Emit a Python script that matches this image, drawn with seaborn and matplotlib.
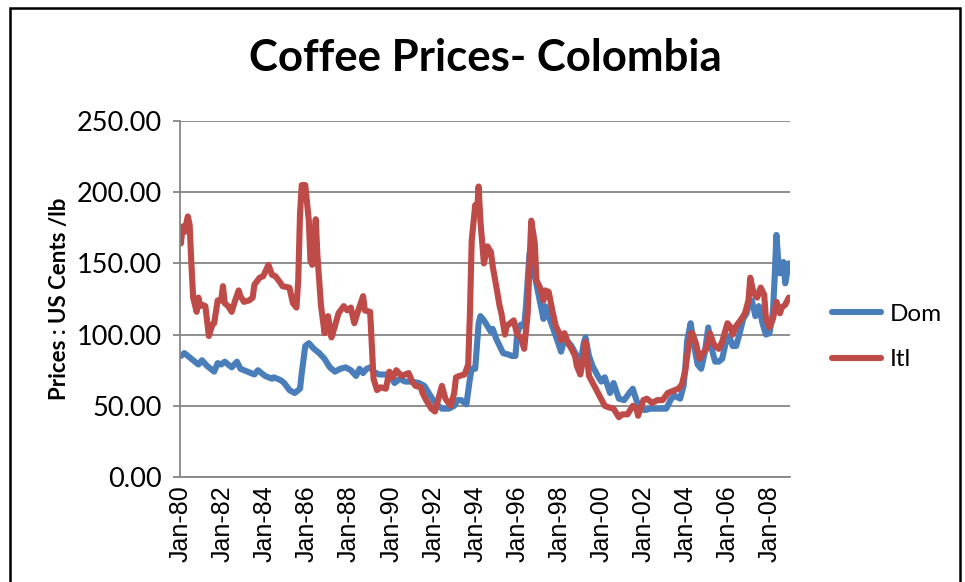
import pandas as pd
import matplotlib
matplotlib.use("Agg")
import matplotlib.pyplot as plt
import matplotlib.dates as mdates
from matplotlib.patches import Rectangle
import seaborn as sns

# Dom series (monthly)
dom_dates = ["1980-01", "1980-03", "1980-07", "1980-11", "1981-01", "1981-04", "1981-08", "1981-10",
             "1981-12", "1982-02", "1982-06", "1982-09", "1982-11", "1983-03", "1983-07", "1983-09",
             "1984-01", "1984-05", "1984-06", "1984-10", "1984-12", "1985-03", "1985-06", "1985-09",
             "1985-10", "1985-12", "1986-02", "1986-05", "1986-08", "1986-11", "1987-02", "1987-05",
             "1987-08", "1987-11", "1988-02", "1988-05", "1988-07", "1988-09", "1988-11", "1989-01",
             "1989-03", "1989-06", "1989-08", "1989-12", "1990-03", "1990-06", "1990-09", "1991-01",
             "1991-05", "1991-08", "1991-11", "1992-02", "1992-06", "1992-10", "1993-01", "1993-03",
             "1993-05", "1993-08", "1993-10", "1993-11", "1994-01", "1994-03", "1994-04", "1994-06",
             "1994-08", "1994-10", "1994-11", "1995-01", "1995-03", "1995-05", "1995-08", "1995-10",
             "1995-12", "1996-01", "1996-03", "1996-05", "1996-06", "1996-08", "1996-09", "1996-10",
             "1996-11", "1997-01", "1997-04", "1997-05", "1997-07", "1997-09", "1997-11", "1998-02",
             "1998-04", "1998-06", "1998-08", "1998-11", "1999-01", "1999-03", "1999-04", "1999-06",
             "1999-08", "1999-11", "2000-01", "2000-03", "2000-06", "2000-08", "2000-11", "2001-02",
             "2001-05", "2001-07", "2001-09", "2001-11", "2002-02", "2002-05", "2002-08", "2002-11",
             "2003-02", "2003-05", "2003-07", "2003-10", "2003-12", "2004-01", "2004-02", "2004-04",
             "2004-06", "2004-08", "2004-10", "2004-12", "2005-02", "2005-04", "2005-06", "2005-08",
             "2005-10", "2005-12", "2006-02", "2006-04", "2006-06", "2006-08", "2006-10", "2006-12",
             "2007-01", "2007-03", "2007-05", "2007-07", "2007-09", "2007-11", "2008-01", "2008-03",
             "2008-04", "2008-05", "2008-06", "2008-07", "2008-09", "2008-10", "2008-12"]
dom_values = [85, 87, 83, 79, 82, 78, 74, 80,
              79, 81, 77, 81, 76, 74, 72, 75,
              71, 69, 70, 68, 66, 61, 59, 62,
              73, 92, 94, 90, 87, 83, 77, 74,
              76, 77, 75, 71, 76, 73, 76, 77,
              74, 72, 72, 72, 66, 69, 67, 67,
              66, 64, 58, 52, 48, 48, 50, 54,
              54, 51, 69, 76, 76, 108, 113, 110,
              106, 102, 104, 97, 92, 87, 86, 85,
              85, 101, 107, 106, 120, 157, 158, 171,
              141, 129, 111, 120, 113, 106, 99, 88,
              97, 95, 92, 85, 79, 94, 98, 85,
              78, 71, 67, 70, 59, 66, 55, 54,
              59, 62, 54, 48, 47, 48, 48, 48,
              48, 55, 57, 55, 64, 78, 96, 108,
              92, 79, 76, 87, 105, 90, 81, 81,
              83, 94, 99, 92, 92, 101, 111, 115,
              121, 124, 113, 120, 108, 100, 101, 116,
              141, 170, 152, 143, 151, 136, 150]

# Itl series
itl_dates = ["1980-01", "1980-02", "1980-03", "1980-05", "1980-06", "1980-07", "1980-08", "1980-10",
             "1980-11", "1980-12", "1981-01", "1981-03", "1981-05", "1981-07", "1981-08", "1981-10",
             "1981-12", "1982-01", "1982-02", "1982-04", "1982-06", "1982-08", "1982-10", "1982-11",
             "1983-01", "1983-04", "1983-06", "1983-07", "1983-10", "1983-12", "1984-03", "1984-05",
             "1984-07", "1984-10", "1984-11", "1985-03", "1985-05", "1985-07", "1985-08", "1985-09",
             "1985-10", "1985-12", "1986-02", "1986-03", "1986-04", "1986-06", "1986-07", "1986-09",
             "1986-10", "1986-11", "1987-01", "1987-03", "1987-05", "1987-07", "1987-10", "1987-12",
             "1988-02", "1988-04", "1988-06", "1988-09", "1988-10", "1989-01", "1989-03", "1989-05",
             "1989-07", "1989-10", "1989-12", "1990-02", "1990-04", "1990-07", "1990-09", "1990-11",
             "1991-01", "1991-03", "1991-06", "1991-07", "1991-09", "1991-12", "1992-02", "1992-04",
             "1992-06", "1992-08", "1992-11", "1993-01", "1993-02", "1993-04", "1993-07", "1993-09",
             "1993-10", "1993-11", "1994-01", "1994-02", "1994-03", "1994-04", "1994-06", "1994-08",
             "1994-10", "1994-11", "1995-01", "1995-03", "1995-04", "1995-06", "1995-07", "1995-09",
             "1995-11", "1996-01", "1996-03", "1996-05", "1996-07", "1996-08", "1996-09", "1996-11",
             "1996-12", "1997-02", "1997-04", "1997-05", "1997-07", "1997-09", "1997-11", "1998-01",
             "1998-02", "1998-04", "1998-06", "1998-08", "1998-10", "1998-11", "1999-01", "1999-03",
             "1999-04", "1999-06", "1999-09", "1999-12", "2000-03", "2000-05", "2000-08", "2000-11",
             "2001-01", "2001-04", "2001-07", "2001-09", "2001-10", "2002-01", "2002-03", "2002-06",
             "2002-09", "2002-12", "2003-03", "2003-05", "2003-07", "2003-09", "2003-11", "2004-01",
             "2004-02", "2004-04", "2004-05", "2004-07", "2004-09", "2004-11", "2005-01", "2005-03",
             "2005-05", "2005-06", "2005-08", "2005-10", "2006-01", "2006-03", "2006-04", "2006-06",
             "2006-09", "2006-11", "2007-01", "2007-02", "2007-04", "2007-06", "2007-08", "2007-10",
             "2007-11", "2008-01", "2008-03", "2008-05", "2008-07", "2008-08", "2008-10", "2008-12"]
itl_values = [164, 176, 172, 183, 177, 150, 126, 116,
              126, 120, 121, 120, 99, 107, 108, 124,
              124, 134, 122, 120, 116, 124, 131, 127,
              123, 124, 126, 135, 140, 141, 149, 142,
              141, 136, 134, 133, 122, 119, 138, 185,
              205, 205, 180, 152, 149, 181, 155, 120,
              111, 101, 113, 98, 106, 115, 120, 117,
              119, 108, 116, 127, 117, 116, 69, 61,
              63, 62, 74, 70, 75, 71, 72, 73,
              67, 64, 63, 59, 54, 48, 46, 55,
              64, 55, 50, 59, 70, 71, 72, 79,
              115, 166, 191, 185, 204, 180, 150, 162,
              158, 148, 134, 120, 115, 100, 106, 108,
              110, 100, 98, 90, 115, 150, 180, 164,
              138, 133, 124, 131, 130, 117, 106, 101,
              96, 101, 94, 90, 85, 78, 72, 85,
              95, 71, 64, 57, 50, 49, 48, 42,
              44, 44, 50, 48, 43, 54, 55, 52,
              54, 54, 59, 60, 61, 62, 65, 75,
              85, 101, 101, 94, 83, 87, 90, 101,
              94, 92, 90, 95, 108, 105, 100, 106,
              111, 115, 124, 140, 129, 126, 133, 128,
              111, 105, 111, 123, 115, 119, 121, 126]

y_ticks = [0, 50, 100, 150, 200, 250]
x_tick_years = list(range(1980, 2009, 2))

df = pd.concat([
    pd.DataFrame({"date": pd.to_datetime(dom_dates), "price": dom_values, "series": "Dom"}),
    pd.DataFrame({"date": pd.to_datetime(itl_dates), "price": itl_values, "series": "Itl"}),
])

sns.set_theme(style="white")
plt.rcParams["font.family"] = ["Lato", "DejaVu Sans"]
plt.rcParams["text.color"] = "black"
plt.rcParams["axes.labelcolor"] = "black"
plt.rcParams["xtick.color"] = "black"
plt.rcParams["ytick.color"] = "black"

fig = plt.figure(figsize=(9.65, 5.82), dpi=100)
ax = fig.add_axes([0.1865, 0.1804, 0.632, 0.6117])

sns.lineplot(data=df, x="date", y="price", hue="series", estimator=None, sort=True,
             palette={"Dom": "#4A7EBB", "Itl": "#BE4B48"}, linewidth=4.4, ax=ax)

ax.set_ylim(0, 250)
ax.set_yticks(y_ticks)
ax.set_yticklabels([f"{v:.2f}" for v in y_ticks], fontsize=19.5)
ax.set_xlim(pd.Timestamp("1979-12-16"), pd.Timestamp("2008-12-20"))
ax.set_xticks([pd.Timestamp(f"{y}-01-01") for y in x_tick_years])
ax.xaxis.set_major_formatter(mdates.DateFormatter("%b-%y"))
for lab in ax.get_xticklabels():
    lab.set_rotation(90)
    lab.set_fontfamily(["Liberation Sans", "DejaVu Sans"])
    lab.set_fontsize(18)

ax.grid(axis="y", color="#868686", linewidth=1.3)
ax.set_axisbelow(True)
for side in ["top", "right"]:
    ax.spines[side].set_visible(False)
for side in ["left", "bottom"]:
    ax.spines[side].set_color("#868686")
    ax.spines[side].set_linewidth(1.3)
ax.tick_params(axis="y", length=5, color="#868686", labelcolor="black", width=1.3, pad=8, left=True)
ax.tick_params(axis="x", length=0, pad=6, labelcolor="black")

ax.set_xlabel("")
ax.set_ylabel("Prices : US Cents /lb", fontsize=16, fontweight="bold", labelpad=5)
fig.suptitle("Coffee Prices- Colombia", x=0.503, y=0.935, va="top", fontsize=31.5, fontweight="bold")

leg = ax.legend(loc="center left", bbox_to_anchor=(0.84, 0.421), bbox_transform=fig.transFigure,
                frameon=False, fontsize=17.5, handlelength=2.0, labelspacing=1.0, handletextpad=0.35)
for line in leg.get_lines():
    line.set_linewidth(4.4)
for txt in leg.get_texts():
    txt.set_color("black")

fig.patches.append(Rectangle((0.0104, -0.1), 0.984, 1.086, transform=fig.transFigure,
                             fill=False, edgecolor="black", linewidth=1.8))

fig.savefig("out.png", dpi=100)
